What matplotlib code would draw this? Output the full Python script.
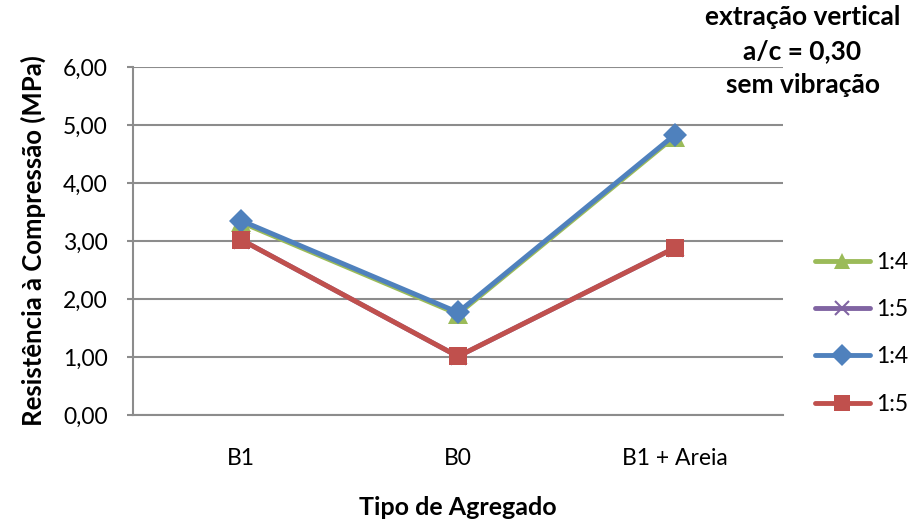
import matplotlib
matplotlib.use('Agg')
import matplotlib.pyplot as plt
from matplotlib.lines import Line2D

plt.rcParams['font.family'] = ['Lato', 'DejaVu Sans']

categorias = ['B1', 'B0', 'B1 + Areia']
serie_labels = ['1:4', '1:5', '1:4', '1:5']
tri_14 = [3.32, 1.74, 4.80]
x_15 = [3.02, 1.01, 2.88]
dia_14 = [3.35, 1.77, 4.83]
sq_15 = [3.02, 1.01, 2.88]
yticks = [0, 1, 2, 3, 4, 5, 6]

cores = ['#9BBB59', '#8064A2', '#4F81BD', '#C0504D']
marcas = ['^', 'x', 'D', 's']
tamanhos = [14, 11, 12, 13]

fig = plt.figure(figsize=(9.12, 5.27), dpi=100)
ax = fig.add_axes([0.1458, 0.2125, 0.7128, 0.6604])

x = range(len(categorias))
handles = []
for vals, c, m, ms, lab in zip([tri_14, x_15, dia_14, sq_15], cores, marcas, tamanhos, serie_labels):
    ax.plot(x, vals, color=c, lw=3.5, marker=m, ms=ms, mew=2 if m == 'x' else 0, zorder=3)
    handles.append(Line2D([], [], color=c, lw=3.5, marker=m, ms=min(ms, 13) * 0.9,
                          mew=1.5 if m == 'x' else 0, solid_capstyle='round', label=lab))

ax.set_xlim(-0.5, 2.5)
ax.set_ylim(0, 6)
ax.set_yticks(yticks)
ax.set_yticklabels([('%.2f' % v).replace('.', ',') for v in yticks])
ax.set_xticks(list(x))
ax.set_xticklabels(categorias)
ax.grid(axis='y', color='#8C8C8C', lw=1.5)
ax.set_axisbelow(True)
for s in ['top', 'right']:
    ax.spines[s].set_visible(False)
for s in ['left', 'bottom']:
    ax.spines[s].set_color('#8C8C8C')
    ax.spines[s].set_linewidth(1.5)
ax.tick_params(axis='y', length=4, color='#8C8C8C', width=1.5, labelsize=16.5, pad=14)
ax.tick_params(axis='x', length=0, labelsize=16.5, pad=24)

ax.set_ylabel('Resistência à Compressão (MPa)', fontsize=18.5, fontweight='bold', labelpad=12)
ax.set_xlabel('Tipo de Agregado', fontsize=18, fontweight='bold', labelpad=19)

fig.text(0.880, 0.99, 'extração vertical\na/c = 0,30\nsem vibração', ha='center', va='top',
         fontsize=19, fontweight='bold', linespacing=1.5)

fig.legend(handles=handles, loc='center left', bbox_to_anchor=(0.8936, 0.368), frameon=False,
           fontsize=16.5, handlelength=2.4, labelspacing=1.15, handletextpad=0.25,
           borderpad=0, borderaxespad=0)

fig.savefig('out.png', dpi=100)
